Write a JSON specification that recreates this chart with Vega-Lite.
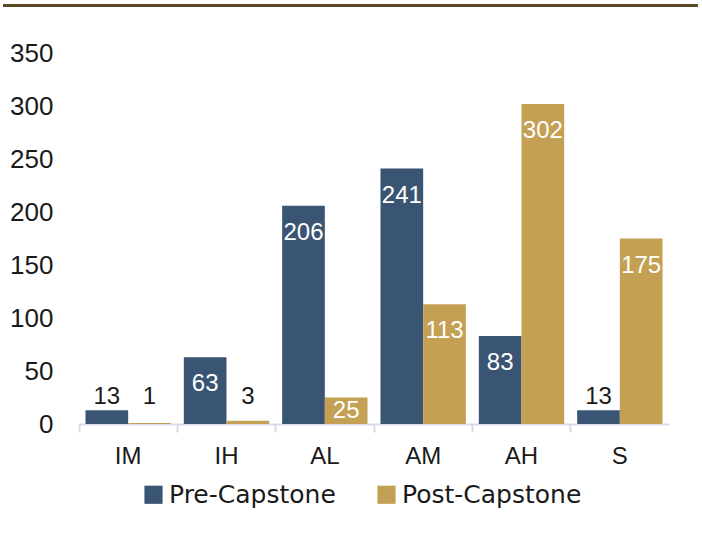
{
  "$schema": "https://vega.github.io/schema/vega-lite/v6.json",
  "autosize": "none",
  "padding": {"left": 79, "top": 53, "right": 33, "bottom": 110},
  "width": 590,
  "height": 371,
  "background": "white",
  "config": {
    "font": "Liberation Sans",
    "view": {"stroke": null}
  },
  "data": {
    "values": [
      {"level": "IM", "phase": "Pre-Capstone", "count": 13},
      {"level": "IM", "phase": "Post-Capstone", "count": 1},
      {"level": "IH", "phase": "Pre-Capstone", "count": 63},
      {"level": "IH", "phase": "Post-Capstone", "count": 3},
      {"level": "AL", "phase": "Pre-Capstone", "count": 206},
      {"level": "AL", "phase": "Post-Capstone", "count": 25},
      {"level": "AM", "phase": "Pre-Capstone", "count": 241},
      {"level": "AM", "phase": "Post-Capstone", "count": 113},
      {"level": "AH", "phase": "Pre-Capstone", "count": 83},
      {"level": "AH", "phase": "Post-Capstone", "count": 302},
      {"level": "S", "phase": "Pre-Capstone", "count": 13},
      {"level": "S", "phase": "Post-Capstone", "count": 175}
    ]
  },
  "resolve": {"scale": {"x": "independent"}},
  "layer": [
    {
      "mark": {"type": "rule", "color": "#5C4A24", "strokeWidth": 3},
      "encoding": {
        "x": {"datum": 0, "type": "quantitative", "scale": {"domain": [0, 1], "range": [-76, 619]}, "axis": null},
        "x2": {"datum": 1},
        "y": {"datum": 394.8, "type": "quantitative"}
      }
    },
    {
      "encoding": {
        "x": {
          "field": "level",
          "type": "nominal",
          "sort": ["IM", "IH", "AL", "AM", "AH", "S"],
          "scale": {"paddingInner": 0, "paddingOuter": 0},
          "axis": {
            "title": null,
            "labelAngle": 0,
            "labelFontSize": 24,
            "labelColor": "#1a1a1a",
            "labelPadding": 12,
            "bandPosition": 0,
            "domainColor": "#D6DDE8",
            "domainWidth": 2,
            "tickColor": "#D6DDE8",
            "tickWidth": 2,
            "tickSize": 8,
            "grid": false
          }
        },
        "xOffset": {
          "field": "phase",
          "type": "nominal",
          "sort": ["Pre-Capstone", "Post-Capstone"],
          "scale": {"paddingInner": 0, "paddingOuter": 0.152}
        }
      },
      "layer": [
        {
          "mark": {"type": "bar"},
          "encoding": {
            "y": {
              "field": "count",
              "type": "quantitative",
              "scale": {"domain": [0, 350], "nice": false},
              "axis": {
                "title": null,
                "values": [0, 50, 100, 150, 200, 250, 300, 350],
                "labelFontSize": 26,
                "labelColor": "#1a1a1a",
                "labelPadding": 26,
                "tickSize": 0,
                "ticks": false,
                "domain": false,
                "gridColor": "#C3C3C3",
                "gridWidth": 1.6
              }
            },
            "color": {
              "field": "phase",
              "type": "nominal",
              "sort": ["Pre-Capstone", "Post-Capstone"],
              "scale": {"domain": ["Pre-Capstone", "Post-Capstone"], "range": ["#3A5573", "#C4A055"]},
              "legend": {
                "title": null,
                "orient": "none",
                "direction": "horizontal",
                "legendX": 62,
                "legendY": 429,
                "symbolType": "square",
                "symbolSize": 330,
                "symbolStrokeWidth": 0,
                "labelFont": "DejaVu Sans",
                "labelFontSize": 25,
                "labelColor": "#1a1a1a",
                "labelOffset": 3,
                "columnPadding": 38,
                "labelLimit": 300
              }
            }
          }
        },
        {
          "transform": [{"filter": "datum.count >= 40"}],
          "mark": {"type": "text", "baseline": "middle", "dy": 27, "fontSize": 24, "color": "white"},
          "encoding": {
            "y": {"field": "count", "type": "quantitative"},
            "text": {"field": "count", "type": "quantitative"}
          }
        },
        {
          "transform": [{"filter": "datum.count >= 20 && datum.count < 40"}],
          "mark": {"type": "text", "baseline": "middle", "dy": -13, "fontSize": 24, "color": "white"},
          "encoding": {
            "y": {"datum": 0, "type": "quantitative"},
            "text": {"field": "count", "type": "quantitative"}
          }
        },
        {
          "transform": [{"filter": "datum.count < 20"}],
          "mark": {"type": "text", "baseline": "middle", "dy": -27, "fontSize": 24, "color": "#1a1a1a"},
          "encoding": {
            "y": {"datum": 0, "type": "quantitative"},
            "text": {"field": "count", "type": "quantitative"}
          }
        }
      ]
    }
  ]
}
